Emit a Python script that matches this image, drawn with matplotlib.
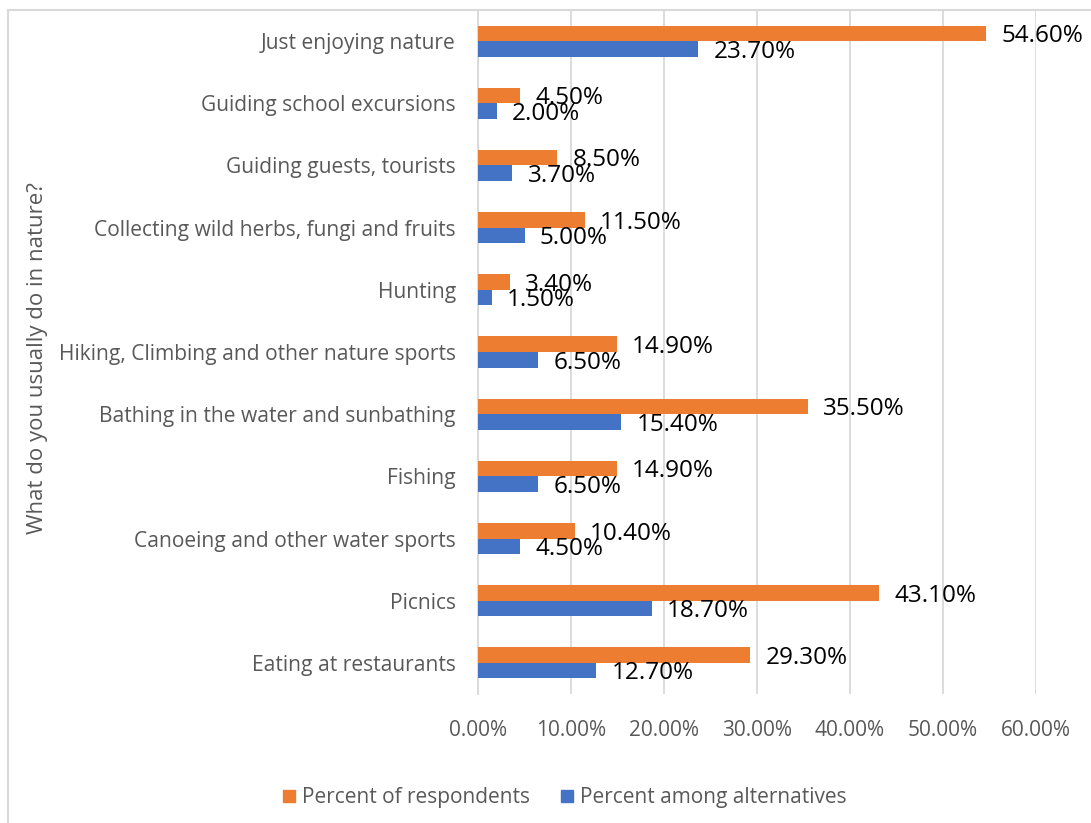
import matplotlib.pyplot as plt
import numpy as np
from matplotlib.patches import Rectangle, Patch

# survey answers, top row first
activities = ["Just enjoying nature", "Guiding school excursions",
              "Guiding guests, tourists",
              "Collecting wild herbs, fungi and fruits", "Hunting",
              "Hiking, Climbing and other nature sports",
              "Bathing in the water and sunbathing", "Fishing",
              "Canoeing and other water sports", "Picnics",
              "Eating at restaurants"]
pct_respondents = [54.6, 4.5, 8.5, 11.5, 3.4, 14.9, 35.5, 14.9, 10.4, 43.1, 29.3]
pct_alternatives = [23.7, 2.0, 3.7, 5.0, 1.5, 6.5, 15.4, 6.5, 4.5, 18.7, 12.7]
x_ticks = [0, 10, 20, 30, 40, 50, 60]

ORANGE = "#ED7D31"
BLUE = "#4472C4"
GRID = "#D9D9D9"
GREY = "#595959"

plt.rcParams['font.family'] = ['Open Sans', 'DejaVu Sans']

fig = plt.figure(figsize=(10.91, 8.23), dpi=100)
W, H = 1091, 823
ax = fig.add_axes([478 / W, 1 - 694 / H, (1036 - 478) / W, (694 - 10) / H])

# chart frame
fig.patches.append(Rectangle((8 / W, -0.1), 1.2, 1 - 10 / H + 0.1,
                             transform=fig.transFigure, fill=False,
                             ec=GRID, lw=1.5, zorder=0))

y = np.arange(len(activities))
h = 0.25
ax.barh(y - h / 2, pct_respondents, height=h, color=ORANGE, zorder=3)
ax.barh(y + h / 2, pct_alternatives, height=h, color=BLUE, zorder=3)

for yi, a, b in zip(y, pct_respondents, pct_alternatives):
    ax.annotate("%.2f%%" % a, (a, yi - h / 2), xytext=(11, -2),
                textcoords="offset points", va="center", ha="left",
                fontsize=17.5, color="black", zorder=4)
    ax.annotate("%.2f%%" % b, (b, yi + h / 2), xytext=(11, -2),
                textcoords="offset points", va="center", ha="left",
                fontsize=17.5, color="black", zorder=4)

ax.set_xlim(0, 60)
ax.set_ylim(len(activities) - 0.5, -0.5)
ax.set_xticks(x_ticks)
ax.set_xticklabels(["%.2f%%" % t for t in x_ticks])
ax.set_yticks(y)
ax.set_yticklabels(activities)
ax.tick_params(axis="x", length=0, pad=19, labelsize=15, labelcolor=GREY)
ax.tick_params(axis="y", length=0, pad=16, labelsize=15.1, labelcolor=GREY)
ax.grid(axis="x", color=GRID, lw=1.3, zorder=0)
for s in ["top", "right", "bottom"]:
    ax.spines[s].set_visible(False)
ax.spines["left"].set_color(GRID)
ax.spines["left"].set_linewidth(1.3)

fig.text(38 / W, 1 - 358 / H, "What do you usually do in nature?",
         rotation=90, ha="center", va="center", fontsize=16, color=GREY)

handles = [Patch(color=ORANGE, label="Percent of respondents"),
           Patch(color=BLUE, label="Percent among alternatives")]
fig.legend(handles=handles, loc="center", bbox_to_anchor=(565 / W, 1 - 798 / H),
           ncol=2, frameon=False, fontsize=15, labelcolor=GREY,
           handlelength=0.55, handleheight=0.55, handletextpad=0.35,
           columnspacing=1.5)

fig.savefig("out.png", dpi=100)
